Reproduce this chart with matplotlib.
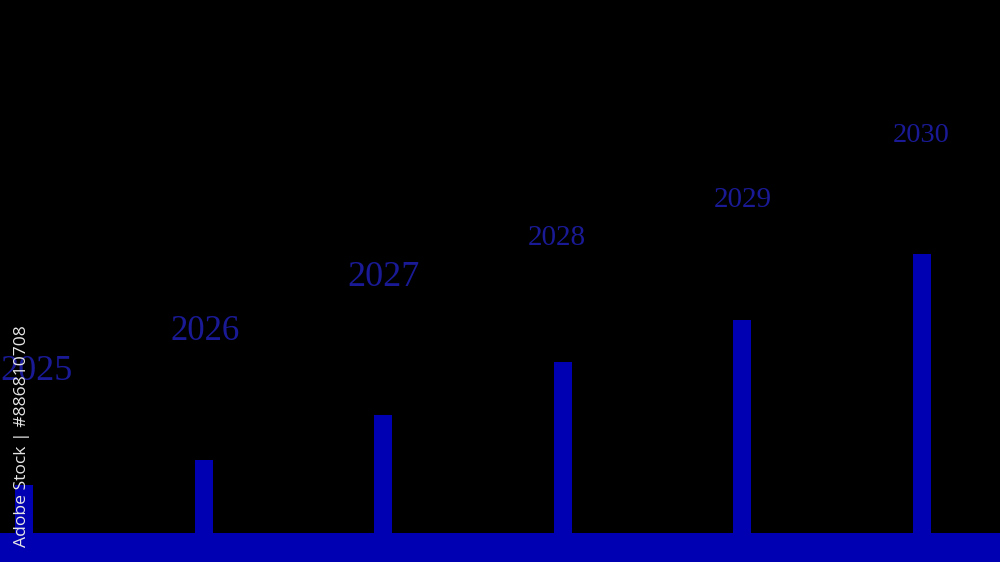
import numpy as np
import matplotlib.pyplot as plt

# data
years = [2025, 2026, 2027, 2028, 2029, 2030]
values = [48, 73, 118, 171, 213, 279]
labels = ['2025', '2026', '2027', '2028', '2029', '2030']

# label styling (offsets in pixels from bar top)
label_sizes = [26, 25, 26, 21, 21, 20.5]
label_dx = [12, 1, 0, -6, 0, -1]
label_dy = [113, 128, 138, 124, 120, 118]

bar_color = '#0000b2'
label_color = '#1a1a96'

fig = plt.figure(figsize=(10, 5.62), dpi=100)
fig.patch.set_facecolor('black')
ax = fig.add_axes([0, 0, 1, 1])
ax.set_facecolor('black')

ax.bar(years, values, width=0.1, color=bar_color, bottom=0)
ax.axhspan(-40, 0, color=bar_color, lw=0)

for x, v, t, s, dx, dy in zip(years, values, labels, label_sizes, label_dx, label_dy):
    ax.annotate(t, (x, v), xytext=(dx * 0.72, dy * 0.72), textcoords='offset points',
                ha='center', va='center', fontsize=s, color=label_color,
                family='Liberation Serif')

# stock id, vertical on the left
ax.text(22, 126, 'Adobe Stock | #886810708', transform=None, rotation=90,
        ha='center', va='center', fontsize=12.6, color='#e6e6e6', family='Open Sans')

ax.set_xlim(2024.866, 2030.434)
ax.set_ylim(-29, 533)
ax.axis('off')

fig.savefig('out.png', dpi=100, facecolor='black')
